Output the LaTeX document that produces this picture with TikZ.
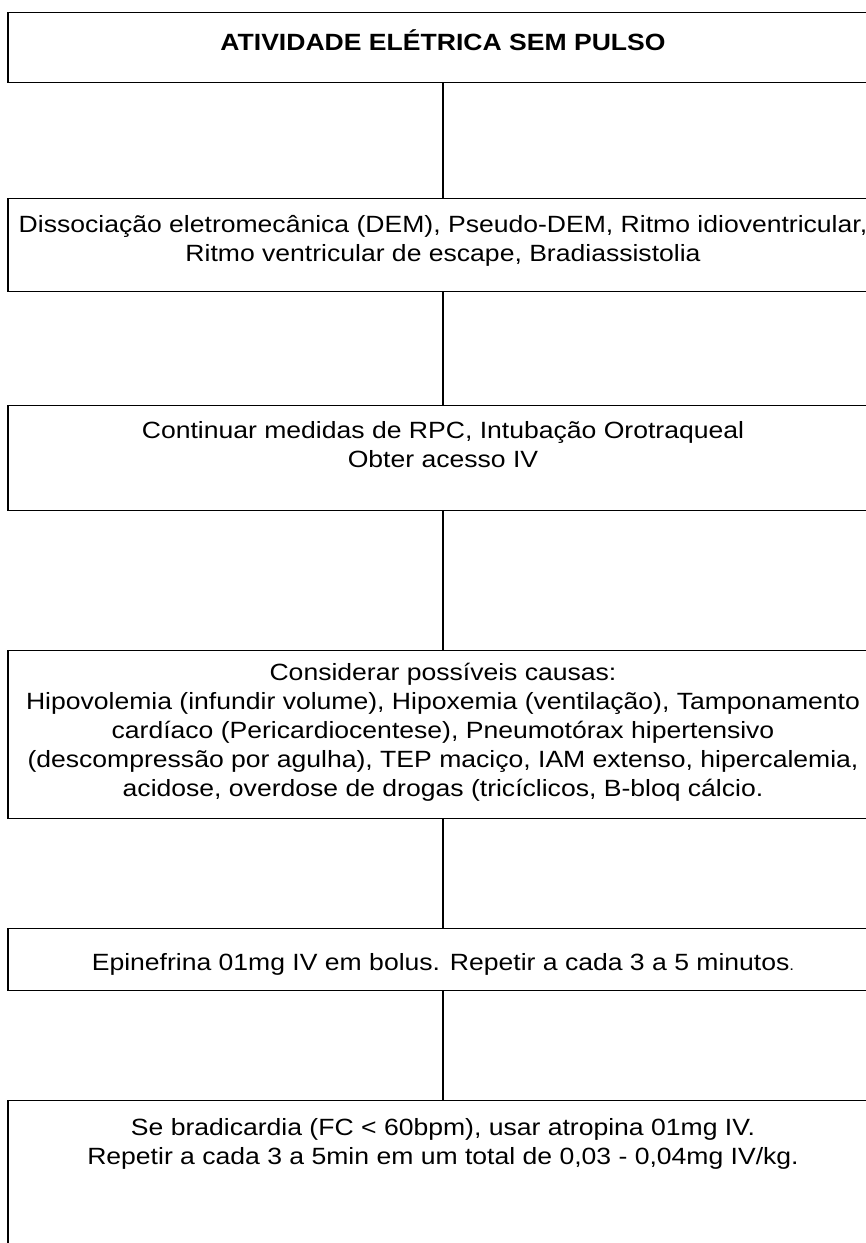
\documentclass[tikz,border=0pt]{standalone}
\usepackage{fontspec}
\setmainfont[FakeStretch=1.13]{Liberation Sans}
\newcommand{\fs}{\fontsize{23.5}{29}\selectfont}
\newcommand{\topstrut}{\rule{0pt}{22pt}}
\begin{document}
\begin{tikzpicture}[x=1pt,y=1pt,
  box/.style={draw=black, line width=1.3pt, minimum width=870pt, inner sep=0pt, anchor=north},
  txt/.style={align=center, font=\fs, anchor=north, inner sep=0pt},
  conn/.style={draw=black, line width=1.3pt}]
\useasboundingbox (0,0) rectangle (866,-1243);
\node[box, minimum height=70pt] (b1) at (443,-12) {};
\node[box, minimum height=93pt] (b2) at (443,-198) {};
\node[box, minimum height=105pt] (b3) at (443,-405) {};
\node[box, minimum height=168pt] (b4) at (443,-650) {};
\node[box, minimum height=62pt] (b5) at (443,-928) {};
\node[box, minimum height=170pt] (b6) at (443,-1100) {};
\node[txt, font=\bfseries\fs] (t1) at (443,-28.5) {\topstrut ATIVIDADE ELÉTRICA SEM PULSO};
\node[txt] (t2) at (443,-210.5) {\topstrut Dissociação eletromecânica (DEM), Pseudo-DEM, Ritmo idioventricular,\\Ritmo ventricular de escape, Bradiassistolia};
\node[txt] (t3) at (443,-416.5) {\topstrut Continuar medidas de RPC, Intubação Orotraqueal\\Obter acesso IV};
\node[txt] (t4) at (443,-658.5) {\topstrut Considerar possíveis causas:\\Hipovolemia (infundir volume), Hipoxemia (ventilação), Tamponamento\\cardíaco (Pericardiocentese), Pneumotórax hipertensivo\\(descompressão por agulha), TEP maciço, IAM extenso, hipercalemia,\\acidose, overdose de drogas (tricíclicos, B-bloq cálcio.};
\node[txt] (t5) at (443,-948.5) {\topstrut Epinefrina 01mg IV em bolus. Repetir a cada 3 a 5 minutos{\fontsize{15}{15}\selectfont.}};
\node[txt] (t6) at (443,-1113.5) {\topstrut Se bradicardia (FC < 60bpm), usar atropina 01mg IV.\\Repetir a cada 3 a 5min em um total de 0,03 - 0,04mg IV/kg.};
\draw[conn] (b1.south) -- (b2.north);
\draw[conn] (b2.south) -- (b3.north);
\draw[conn] (b3.south) -- (b4.north);
\draw[conn] (b4.south) -- (b5.north);
\draw[conn] (b5.south) -- (b6.north);
\end{tikzpicture}
\end{document}
